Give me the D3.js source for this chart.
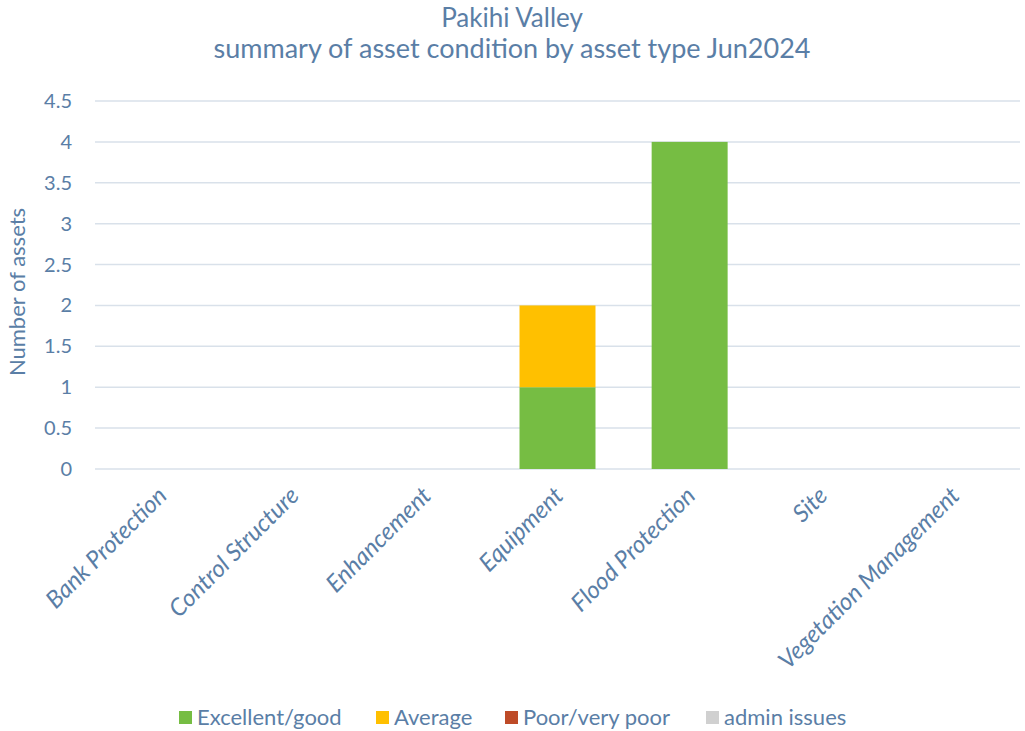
<!DOCTYPE html>
<html>
<head>
<meta charset="utf-8">
<script src="https://cdn.jsdelivr.net/npm/d3@7"></script>
<style>
  body { margin: 0; background: #fff; }
  svg text { font-family: Lato, "Open Sans", sans-serif; fill: #5a7ea6; }
</style>
</head>
<body>
<svg class="chart"></svg>
<script>
// Chart size
const width = 1025, height = 731;
const svg = d3.select(".chart").attr("width", width).attr("height", height);

// Data
const categories = ["Bank Protection", "Control Structure", "Enhancement", "Equipment", "Flood Protection", "Site", "Vegetation Management"];
const seriesNames = ["Excellent/good", "Average", "Poor/very poor", "admin issues"];
const excellentGood = [0, 0, 0, 1, 4, 0, 0];
const average = [0, 0, 0, 1, 0, 0, 0];
const poor = [0, 0, 0, 0, 0, 0, 0];
const adminIssues = [0, 0, 0, 0, 0, 0, 0];
const yTicks = [0, 0.5, 1, 1.5, 2, 2.5, 3, 3.5, 4, 4.5];
const colors = ["#76bd43", "#ffc000", "#be4b28", "#d0d0d0"];

// Build rows for the stack
const rows = categories.map((c, i) => ({
    cat: c,
    "Excellent/good": excellentGood[i],
    "Average": average[i],
    "Poor/very poor": poor[i],
    "admin issues": adminIssues[i]
}));
const stacked = d3.stack().keys(seriesNames)(rows);

// Scales
const plotLeft = 95, plotRight = 1020, plotTop = 101, plotBottom = 469;
const x = d3.scaleBand().domain(categories).range([plotLeft, plotRight]).paddingInner(0.425).paddingOuter(0.2125);
const y = d3.scaleLinear().domain([0, 4.5]).range([plotBottom, plotTop]);

// Gridlines
svg.append("g")
    .selectAll("line")
    .data(yTicks)
    .enter()
    .append("line")
    .attr("x1", plotLeft).attr("x2", plotRight)
    .attr("y1", d => y(d)).attr("y2", d => y(d))
    .attr("stroke", "#d9e1ea")
    .attr("stroke-width", 1.5);

// Y tick labels
svg.append("g")
    .selectAll("text")
    .data(yTicks)
    .enter()
    .append("text")
    .attr("x", 72)
    .attr("y", d => y(d))
    .attr("dy", "0.35em")
    .attr("text-anchor", "end")
    .style("font-size", "20px")
    .text(d => d);

// Bars
svg.append("g")
    .selectAll("g")
    .data(stacked)
    .enter()
    .append("g")
    .attr("fill", (d, i) => colors[i])
    .selectAll("rect")
    .data(d => d)
    .enter()
    .append("rect")
    .attr("x", d => x(d.data.cat))
    .attr("width", x.bandwidth())
    .attr("y", d => y(d[1]))
    .attr("height", d => y(d[0]) - y(d[1]));

// X labels, rotated
svg.append("g")
    .selectAll("text")
    .data(categories)
    .enter()
    .append("text")
    .attr("transform", d => `translate(${x(d) + x.bandwidth() / 2 - 3},${487}) rotate(-45)`)
    .attr("text-anchor", "end")
    .attr("dy", "0.6em")
    .style("font-size", "24px")
    .style("font-style", "italic")
    .text(d => d);

// Titles
svg.append("text")
    .attr("x", 512).attr("y", 27)
    .attr("text-anchor", "middle")
    .style("font-size", "26px")
    .text("Pakihi Valley");
svg.append("text")
    .attr("x", 512).attr("y", 58)
    .attr("text-anchor", "middle")
    .style("font-size", "27px")
    .text("summary of asset condition by asset type Jun2024");

svg.append("text")
    .attr("transform", `translate(25,292) rotate(-90)`)
    .attr("text-anchor", "middle")
    .style("font-size", "22px")
    .text("Number of assets");

// Legend
const legendX = [179, 376, 505, 706];
const legend = svg.append("g")
    .selectAll("g")
    .data(seriesNames)
    .enter()
    .append("g")
    .attr("transform", (d, i) => `translate(${legendX[i]},711)`);
legend.append("rect")
    .attr("width", 13).attr("height", 13)
    .attr("fill", (d, i) => colors[i]);
legend.append("text")
    .attr("x", 18).attr("y", 14)
    .style("font-size", "22px")
    .text(d => d);
</script>
</body>
</html>
